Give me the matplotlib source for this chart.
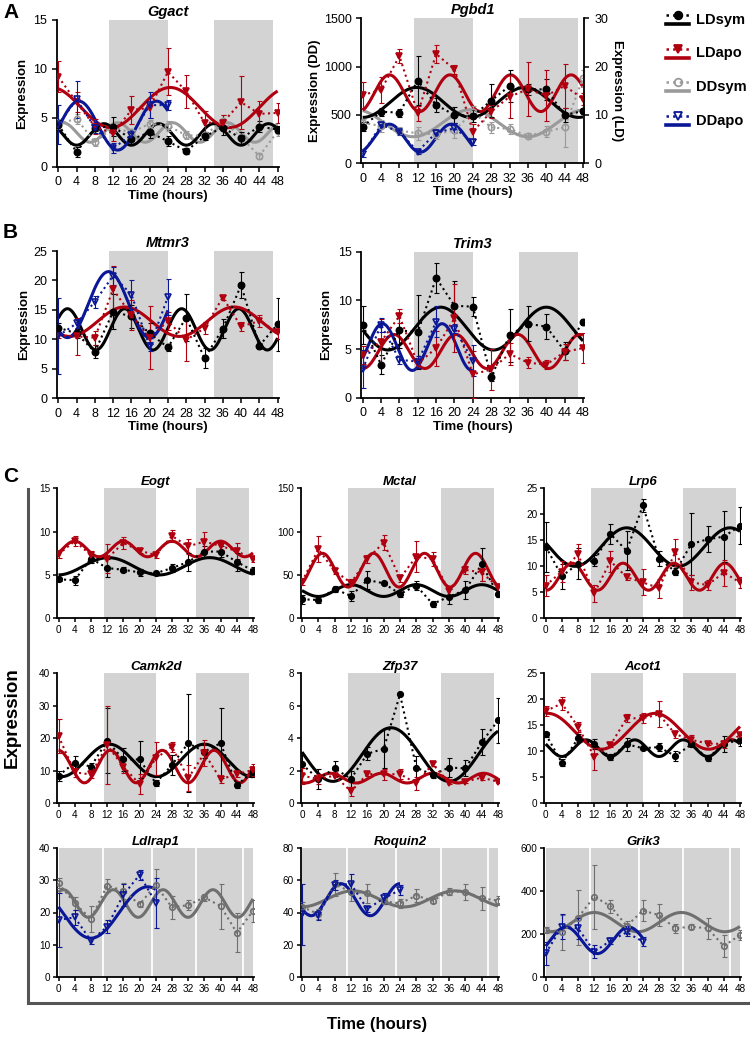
import numpy as np
import matplotlib
matplotlib.use("Agg")
import matplotlib.pyplot as plt

plt.rcParams['font.family'] = ['Liberation Sans', 'DejaVu Sans']

# time points
t_full = [0, 4, 8, 12, 16, 20, 24, 28, 32, 36, 40, 44, 48]
t_half = [0, 4, 8, 12, 16, 20, 24]
xticks = [0, 4, 8, 12, 16, 20, 24, 28, 32, 36, 40, 44, 48]

# ---- Panel A: Ggact ----
ggact_ldsym = [4.3, 1.5, 4.0, 4.1, 2.8, 3.5, 2.6, 1.6, 3.1, 4.0, 2.9, 4.1, 3.8]
ggact_ldsym_err = [0.5, 0.5, 0.4, 1.0, 0.6, 0.6, 0.5, 0.3, 0.4, 0.8, 0.6, 0.6, 0.4]
ggact_ldapo = [9.2, 6.6, 4.1, 3.4, 5.8, 6.0, 9.7, 7.7, 4.5, 4.5, 6.6, 5.4, 5.5]
ggact_ldapo_err = [1.6, 1.0, 0.8, 0.8, 1.4, 1.0, 2.4, 1.7, 1.2, 0.8, 2.7, 1.3, 1.0]
ggact_ddsym = [4.4, 4.9, 2.5, 4.0, 3.5, 4.4, 4.2, 3.2, 3.2, 4.7, 3.0, 1.1, 3.6]
ggact_ddsym_err = [0.5, 0.5, 0.4, 0.5, 0.4, 0.4, 0.5, 0.4, 0.3, 0.6, 0.5, 0.3, 0.5]
ggact_ddapo = [4.3, 6.9, 4.0, 1.9, 3.2, 6.3, 6.3]
ggact_ddapo_err = [2.0, 1.9, 0.6, 0.5, 0.6, 1.3, 0.5]
# cosinor fits: mesor, amplitude, period, acrophase
ggact_fits = {'LDsym': (3.3, 1.1, 12, 10), 'LDapo': (6.05, 2.05, 26, 24.5),
              'DDsym': (3.5, 1.0, 12, 1), 'DDapo': (4.2, 2.5, 17, 4.5)}

# ---- Panel A: Pgbd1 (left axis DD units) ----
pgbd1_ldsym = [380, 534, 524, 855, 603, 500, 490, 648, 800, 765, 765, 500, 540]
pgbd1_ldsym_err = [50, 40, 40, 250, 70, 80, 60, 170, 170, 60, 110, 70, 30]
pgbd1_ldapo = [707, 758, 1110, 517, 1131, 972, 328, 534, 690, 765, 700, 800, 668]
pgbd1_ldapo_err = [130, 130, 70, 80, 90, 50, 80, 70, 220, 280, 260, 230, 60]
pgbd1_ddsym = [420, 386, 338, 310, 300, 340, 530, 372, 355, 283, 328, 372, 884]
pgbd1_ddsym_err = [40, 60, 40, 70, 50, 80, 60, 60, 50, 30, 60, 200, 80]
pgbd1_ddapo = [97, 397, 328, 121, 317, 362, 224]
pgbd1_ddapo_err = [30, 30, 40, 20, 30, 50, 30]
pgbd1_fits = {'LDsym': (630, 155, 23.5, 11.8), 'LDapo': (725, 190, 13.2, 5.8),
              'DDsym': (415, 140, 25, 23.5), 'DDapo': (260, 145, 13.5, 5.8)}

# ---- Panel B: Mtmr3 ----
mtmr3_ldsym = [12.0, 11.0, 7.9, 14.7, 13.9, 11.0, 8.65, 13.7, 6.8, 11.8, 19.2, 8.9, 12.6]
mtmr3_ldsym_err = [0.8, 0.8, 1.1, 3.0, 1.9, 1.8, 0.6, 4.0, 1.7, 1.6, 2.2, 0.5, 4.5]
mtmr3_ldapo = [10.6, 10.5, 10.3, 18.5, 14.1, 10.3, 13.1, 9.9, 11.9, 17.1, 12.2, 13.1, 11.3]
mtmr3_ldapo_err = [0.4, 3.2, 1.2, 4.0, 2.5, 5.3, 1.5, 3.6, 1.0, 0.4, 0.7, 1.0, 1.2]
mtmr3_ddapo = [10.6, 12.7, 16.4, 20.8, 17.6, 8.8, 17.2]
mtmr3_ddapo_err = [6.5, 0.8, 1.0, 1.5, 2.5, 0.8, 3.0]
mtmr3_fits = {'LDsym': (11.7, 3.5, 12.5, 2), 'LDapo': (13.0, 2.5, 24, 14.5),
              'DDapo': (15.9, 5.6, 18, 11)}

# ---- Panel B: Trim3 ----
trim3_ldsym = [7.47, 3.4, 6.95, 6.7, 12.3, 9.45, 9.35, 2.1, 6.4, 7.6, 7.3, 4.8, 7.8]
trim3_ldsym_err = [2.0, 1.0, 1.8, 3.8, 1.5, 2.5, 1.0, 0.4, 2.7, 1.8, 1.3, 0.9, 0.3]
trim3_ldapo = [4.4, 5.75, 8.4, 3.5, 5.1, 8.15, 2.4, 2.9, 4.5, 3.6, 3.4, 4.7, 5.1]
trim3_ldapo_err = [0.9, 2.3, 0.7, 0.5, 1.8, 3.5, 2.4, 2.1, 1.1, 0.6, 0.5, 0.8, 1.5]
trim3_ddapo = [2.95, 7.5, 3.9, 3.7, 7.8, 7.1, 3.8]
trim3_ddapo_err = [2.0, 0.7, 0.4, 0.6, 1.6, 0.5, 1.6]
trim3_fits = {'LDsym': (7.1, 2.2, 23, 17), 'LDapo': (4.75, 1.75, 13.5, 6.8),
              'DDapo': (5.2, 2.4, 13, 4.3)}

# ---- Panel C row 1 ----
eogt_ldsym = [4.5, 4.4, 6.9, 5.8, 5.6, 5.3, 5.2, 5.8, 6.5, 7.7, 7.7, 6.5, 5.5]
eogt_ldsym_err = [0.2, 0.5, 0.5, 1.0, 0.3, 0.4, 0.2, 0.5, 1.0, 0.6, 0.6, 1.0, 0.4]
eogt_ldapo = [7.4, 8.9, 7.3, 6.9, 8.7, 7.8, 7.3, 9.5, 8.3, 8.85, 8.35, 7.75, 6.85]
eogt_ldapo_err = [0.4, 0.6, 0.5, 1.7, 0.7, 0.3, 0.3, 0.7, 0.9, 1.1, 0.5, 0.9, 0.3]
eogt_fits = {'LDsym': (6.0, 1.0, 25, 12.3), 'LDapo': (8.0, 0.9, 12, 4)}

mctal_ldsym = [21.9, 21.2, 33.8, 25.8, 44.2, 40.4, 28.1, 37.7, 16.5, 25.0, 32.7, 62.3, 27.7]
mctal_ldsym_err = [5, 3, 4, 6, 10, 2, 4, 5, 4, 9, 10, 19, 3]
mctal_ldapo = [42.3, 79.6, 54.6, 41.0, 68.5, 87.3, 46.2, 71.2, 68.5, 31.9, 55.8, 53.0, 36.0]
mctal_ldapo_err = [4, 15, 4, 4, 5, 9, 4, 18, 8, 5, 5, 10, 4]
mctal_fits = {'LDsym': (32, 6.8, 16, 12), 'LDapo': (55.5, 19.5, 12.5, 5)}

lrp6_ldsym = [13.8, 8.1, 10.5, 11.1, 16.2, 13.0, 21.7, 11.5, 9.0, 14.3, 15.2, 15.7, 17.8]
lrp6_ldsym_err = [4.8, 2.4, 3.0, 1.0, 1.9, 3.8, 1.2, 1.5, 0.6, 5.9, 2.5, 4.9, 3.6]
lrp6_ldapo = [6.3, 9.0, 12.3, 4.8, 11.0, 7.9, 6.9, 5.8, 12.7, 6.9, 6.4, 8.8, 6.9]
lrp6_ldapo_err = [2.0, 2.0, 2.0, 1.7, 2.0, 0.6, 2.5, 1.8, 2.6, 1.4, 1.0, 2.5, 1.1]
lrp6_fits = {'LDsym': (13.7, 3.7, 25.5, 20), 'LDapo': (8.0, 2.6, 12.6, 6.5)}

# ---- Panel C row 2 ----
camk2d_ldsym = [8.5, 12.5, 11.3, 19.2, 13.5, 13.5, 6.2, 11.8, 18.5, 15.9, 18.5, 5.6, 9.7]
camk2d_ldsym_err = [1.5, 2.0, 1.2, 10, 3.5, 5.7, 1.0, 3.0, 15, 2, 10.7, 1.0, 1.5]
camk2d_ldapo = [20.7, 9.5, 8.9, 17.9, 11.3, 5.9, 13.8, 17.4, 7.7, 15.4, 7.4, 8.9, 10.3]
camk2d_ldapo_err = [5.3, 1.5, 1.0, 12, 2.0, 3.0, 5.0, 1.5, 4.0, 4.0, 1.0, 0.8, 1.8]
camk2d_fits = {'LDsym': (13.2, 5.0, 23.5, 12.5), 'LDapo': (11.3, 5.0, 12.8, 0)}

zfp37_ldsym = [2.4, 1.5, 2.15, 1.5, 3.05, 3.35, 6.7, 2.2, 1.75, 2.2, 2.15, 3.75, 5.1]
zfp37_ldsym_err = [0.6, 0.6, 0.45, 0.5, 0.4, 1.2, 0.0, 0.7, 0.2, 0.6, 0.5, 0.8, 1.4]
zfp37_ldapo = [1.7, 1.5, 1.7, 0.73, 1.8, 1.78, 1.8, 1.23, 2.42, 1.27, 1.33, 1.58, 1.33]
zfp37_ldapo_err = [0.5, 0.3, 0.1, 0.3, 0.1, 0.35, 0.3, 0.4, 0.1, 0.1, 0.1, 0.15, 0.05]
zfp37_fits = {'LDsym': (3.0, 1.65, 28.5, 21.8), 'LDapo': (1.55, 0.3, 12.5, 7)}

acot1_ldsym = [13.3, 7.8, 12.5, 11.4, 8.85, 11.35, 10.6, 10.8, 9.1, 11.35, 8.65, 11.4, 12.2]
acot1_ldsym_err = [0.5, 0.7, 0.8, 1.0, 0.6, 1.3, 0.3, 0.8, 0.9, 0.5, 0.6, 1.6, 1.2]
acot1_ldapo = [17.75, 19.2, 14.7, 9.0, 11.2, 16.35, 16.35, 17.1, 13.3, 12.2, 11.5, 11.4, 13.1]
acot1_ldapo_err = [1.0, 1.2, 1.0, 2.5, 0.3, 0.8, 1.0, 2.5, 0.7, 1.0, 0.3, 0.8, 0.5]
acot1_fits = {'LDsym': (10.6, 1.6, 12, 10), 'LDapo': (13.85, 3.45, 26.5, 0.5)}

# ---- Panel C row 3 (DD) ----
ldlrap1_ddsym = [29.1, 22.9, 18.0, 28.4, 26.8, 22.5, 28.6, 21.6, 22.3, 24.7, 22.0, 13.7, 20.5]
ldlrap1_ddsym_err = [1.6, 2.0, 4.0, 2.0, 2.5, 0.8, 5.0, 3.5, 1.5, 1.0, 7.0, 6.0, 3.5]
ldlrap1_ddapo = [17.7, 18.5, 11.2, 15.6, 25.5, 31.7, 23.1]
ldlrap1_ddapo_err = [8.5, 2.3, 1.0, 2.0, 3.5, 1.5, 7.8]
ldlrap1_fits = {'DDsym': (22.8, 4.3, 12.3, 1.2), 'DDapo': (20.0, 8.0, 28, 22)}

roquin2_ddsym = [43.6, 39.0, 57.5, 53.0, 52.0, 47.0, 45.7, 50.5, 47.4, 53.0, 53.0, 48.8, 47.4]
roquin2_ddsym_err = [3, 3, 7, 6, 6, 2, 3, 4, 1.5, 2, 5, 7, 3]
roquin2_ddapo = [38.9, 38.4, 57.1, 57.7, 42.2, 48.8, 54.0]
roquin2_ddapo_err = [19, 3, 3, 6, 2, 3.5, 3]
roquin2_fits = {'DDsym': (48.5, 5.0, 25, 12.5), 'DDapo': (48, 10, 14.5, 9.5)}

grik3_ddsym = [218, 207, 276, 374, 330, 237, 309, 288, 226, 234, 226, 143, 195]
grik3_ddsym_err = [15, 80, 130, 150, 30, 25, 50, 50, 20, 10, 50, 50, 25]
grik3_ddapo = [109, 234, 226, 117, 168, 207, 164]
grik3_ddapo_err = [55, 60, 50, 30, 15, 15, 20]
grik3_fits = {'DDsym': (255, 45, 21.5, 12), 'DDapo': (170, 62, 15.5, 5)}

RED = '#b00010'
BLUE = '#0a1796'
GRAY = '#9a9a9a'
SHADE = '#d3d3d3'

styles = {
    'LDsym': dict(color='black', marker='o', mfc='black'),
    'LDapo': dict(color=RED, marker='v', mfc=RED),
    'DDsym': dict(color=GRAY, marker='o', mfc='none'),
    'DDapo': dict(color=BLUE, marker='v', mfc='none'),
}

W, H = 750, 1037
fig = plt.figure(figsize=(W / 100, H / 100), dpi=100)


def make_ax(t0px, t48px, ytop, ybot, ymax, xpad=0.3):
    pph = (t48px - t0px) / 48.0
    left = t0px - xpad * pph
    right = t48px + xpad * pph
    ax = fig.add_axes([left / W, 1 - ybot / H, (right - left) / W, (ybot - ytop) / H])
    ax.set_xlim(-xpad, 48 + xpad)
    ax.set_ylim(0, ymax)
    for s in ['top', 'right']:
        ax.spines[s].set_visible(False)
    for s in ['left', 'bottom']:
        ax.spines[s].set_linewidth(1.3)
    ax.set_xticks(xticks)
    ax.tick_params(width=1.1, length=3.5, direction='out')
    return ax


def cosinor(t, p):
    m, a, per, ph = p
    return m + a * np.cos(2 * np.pi * (np.asarray(t) - ph) / per)


def draw(ax, series, fits, fit_colors=None, ms=4.5):
    for key, t, vals, errs in series:
        st = styles[key]
        col = st['color']
        if fit_colors and key in fit_colors:
            col = fit_colors[key]
        tt = np.linspace(0, t[-1], 300)
        ax.plot(tt, cosinor(tt, fits[key]), color=col, lw=2.2, zorder=3,
                solid_capstyle='butt')
        ax.errorbar(t, vals, yerr=errs, fmt='none', ecolor=col, elinewidth=0.8,
                    capsize=1.8, capthick=0.8, zorder=4)
        ax.plot(t, vals, ls=':', lw=1.5, color=col, marker=st['marker'],
                ms=ms, mfc=st['mfc'], mec=col, mew=1.2, zorder=5)


def shade(ax):
    ax.axvspan(11.2, 24, color=SHADE, lw=0, zorder=0)
    ax.axvspan(34, 46.9, color=SHADE, lw=0, zorder=0)


def shade_dd(ax):
    ax.axvspan(0, 48, color=SHADE, lw=0, zorder=0)
    for x in [11, 23, 34, 45.6]:
        ax.axvline(x, color='white', lw=1.3, zorder=1)


title_kw = dict(fontsize=10.5, fontweight='bold', fontstyle='italic', pad=3)
lab_kw = dict(fontsize=9.5, fontweight='bold')

# ---------- Panel A ----------
ax = make_ax(58.3, 277.6, 20, 166.7, 15)
shade(ax)
draw(ax, [('DDsym', t_full, ggact_ddsym, ggact_ddsym_err),
          ('LDsym', t_full, ggact_ldsym, ggact_ldsym_err),
          ('LDapo', t_full, ggact_ldapo, ggact_ldapo_err),
          ('DDapo', t_half, ggact_ddapo, ggact_ddapo_err)], ggact_fits)
ax.set_yticks([0, 5, 10, 15])
ax.tick_params(labelsize=9)
ax.set_title('Ggact', **title_kw)
ax.set_ylabel('Expression', labelpad=4, **lab_kw)
ax.set_xlabel('Time (hours)', labelpad=1, **lab_kw)

ax = make_ax(362.7, 583, 18.3, 163.3, 1500)
shade(ax)
draw(ax, [('DDsym', t_full, pgbd1_ddsym, pgbd1_ddsym_err),
          ('LDsym', t_full, pgbd1_ldsym, pgbd1_ldsym_err),
          ('LDapo', t_full, pgbd1_ldapo, pgbd1_ldapo_err),
          ('DDapo', t_half, pgbd1_ddapo, pgbd1_ddapo_err)], pgbd1_fits)
ax.set_yticks([0, 500, 1000, 1500])
ax.tick_params(labelsize=9)
ax.set_title('Pgbd1', **title_kw)
ax.set_ylabel('Expression (DD)', labelpad=2, **lab_kw)
ax.set_xlabel('Time (hours)', labelpad=1, **lab_kw)
ax2 = ax.twinx()
ax2.set_ylim(0, 30)
ax2.set_yticks([0, 10, 20, 30])
for s in ['top', 'left', 'bottom']:
    ax2.spines[s].set_visible(False)
ax2.spines['right'].set_linewidth(1.3)
ax2.tick_params(labelsize=9, width=1.1, length=3.5)
ax2.set_ylabel('Expression (LD)', rotation=270, labelpad=11, **lab_kw)

# ---------- Panel B ----------
ax = make_ax(58.3, 277.6, 251, 398.3, 25)
shade(ax)
draw(ax, [('LDsym', t_full, mtmr3_ldsym, mtmr3_ldsym_err),
          ('LDapo', t_full, mtmr3_ldapo, mtmr3_ldapo_err),
          ('DDapo', t_half, mtmr3_ddapo, mtmr3_ddapo_err)], mtmr3_fits)
ax.set_yticks([0, 5, 10, 15, 20, 25])
ax.tick_params(labelsize=9)
ax.set_title('Mtmr3', **title_kw)
ax.set_ylabel('Expression', labelpad=2, **lab_kw)
ax.set_xlabel('Time (hours)', labelpad=1, **lab_kw)

ax = make_ax(362.7, 583, 251.7, 397.7, 15)
shade(ax)
draw(ax, [('LDsym', t_full, trim3_ldsym, trim3_ldsym_err),
          ('LDapo', t_full, trim3_ldapo, trim3_ldapo_err),
          ('DDapo', t_half, trim3_ddapo, trim3_ddapo_err)], trim3_fits)
ax.set_yticks([0, 5, 10, 15])
ax.tick_params(labelsize=9)
ax.set_title('Trim3', **title_kw)
ax.set_ylabel('Expression', labelpad=4, **lab_kw)
ax.set_xlabel('Time (hours)', labelpad=1, **lab_kw)

# ---------- Panel C ----------
cols = [(58.5, 253), (302, 498), (545.7, 740)]
rows = [(488.3, 618.3), (673.3, 803.3), (848.3, 976.7)]
c_title = dict(fontsize=9.5, fontweight='bold', fontstyle='italic', pad=2)

c_ld = [
    ('Eogt', 15, [0, 5, 10, 15], eogt_ldsym, eogt_ldsym_err, eogt_ldapo, eogt_ldapo_err, eogt_fits),
    ('Mctal', 150, [0, 50, 100, 150], mctal_ldsym, mctal_ldsym_err, mctal_ldapo, mctal_ldapo_err, mctal_fits),
    ('Lrp6', 25, [0, 5, 10, 15, 20, 25], lrp6_ldsym, lrp6_ldsym_err, lrp6_ldapo, lrp6_ldapo_err, lrp6_fits),
    ('Camk2d', 40, [0, 10, 20, 30, 40], camk2d_ldsym, camk2d_ldsym_err, camk2d_ldapo, camk2d_ldapo_err, camk2d_fits),
    ('Zfp37', 8, [0, 2, 4, 6, 8], zfp37_ldsym, zfp37_ldsym_err, zfp37_ldapo, zfp37_ldapo_err, zfp37_fits),
    ('Acot1', 25, [0, 5, 10, 15, 20, 25], acot1_ldsym, acot1_ldsym_err, acot1_ldapo, acot1_ldapo_err, acot1_fits),
]
for i, (name, ymax, yt, s_v, s_e, a_v, a_e, fits) in enumerate(c_ld):
    r, c = divmod(i, 3)
    ax = make_ax(cols[c][0], cols[c][1], rows[r][0], rows[r][1], ymax)
    shade(ax)
    draw(ax, [('LDsym', t_full, s_v, s_e), ('LDapo', t_full, a_v, a_e)], fits, ms=4)
    ax.set_yticks(yt)
    ax.tick_params(labelsize=7.2, length=3, pad=2)
    ax.set_title(name, **c_title)

DDGRAY = '#6f6f6f'
c_dd = [
    ('Ldlrap1', 40, [0, 10, 20, 30, 40], ldlrap1_ddsym, ldlrap1_ddsym_err, ldlrap1_ddapo, ldlrap1_ddapo_err, ldlrap1_fits),
    ('Roquin2', 80, [0, 20, 40, 60, 80], roquin2_ddsym, roquin2_ddsym_err, roquin2_ddapo, roquin2_ddapo_err, roquin2_fits),
    ('Grik3', 600, [0, 200, 400, 600], grik3_ddsym, grik3_ddsym_err, grik3_ddapo, grik3_ddapo_err, grik3_fits),
]
for c, (name, ymax, yt, s_v, s_e, a_v, a_e, fits) in enumerate(c_dd):
    ax = make_ax(cols[c][0], cols[c][1], rows[2][0], rows[2][1], ymax)
    shade_dd(ax)
    draw(ax, [('DDsym', t_full, s_v, s_e), ('DDapo', t_half, a_v, a_e)], fits,
         fit_colors={'DDsym': DDGRAY}, ms=4)
    ax.set_yticks(yt)
    ax.tick_params(labelsize=7.2, length=3, pad=2)
    ax.set_title(name, **c_title)

# ---------- overlay: panel letters, legend, bracket ----------
ov = fig.add_axes([0, 0, 1, 1], facecolor='none')
ov.set_xlim(0, W)
ov.set_ylim(H, 0)
ov.axis('off')

for letter, y in [('A', 12), ('B', 232), ('C', 477)]:
    ov.text(3, y, letter, fontsize=15, fontweight='bold', va='center', ha='left')

legend_items = [('LDsym', 'black'), ('LDapo', RED), ('DDsym', GRAY), ('DDapo', BLUE)]
for i, (key, col) in enumerate(legend_items):
    yc = 19 + i * 33.5
    st = styles[key]
    ov.plot([666, 689], [yc - 4, yc - 4], ls=':', lw=1.8, color=col)
    ov.plot([677.5], [yc - 4], marker=st['marker'], ms=5.5, color=col,
            mfc=st['mfc'], mec=col, mew=1.3)
    ov.plot([666, 689], [yc + 5, yc + 5], ls='-', lw=2.6, color=col)
    ov.text(696, yc + 1, key, fontsize=10.5, fontweight='bold', va='center', ha='left')

ov.plot([27.5, 27.5, W], [489, 1003, 1003], color='#555555', lw=2.2,
        solid_joinstyle='miter')
ov.text(12, 718, 'Expression', fontsize=13.5, fontweight='bold', rotation=90,
        va='center', ha='center')
ov.text(377, 1025, 'Time (hours)', fontsize=12, fontweight='bold',
        va='center', ha='center')

fig.savefig('out.png', dpi=100)
